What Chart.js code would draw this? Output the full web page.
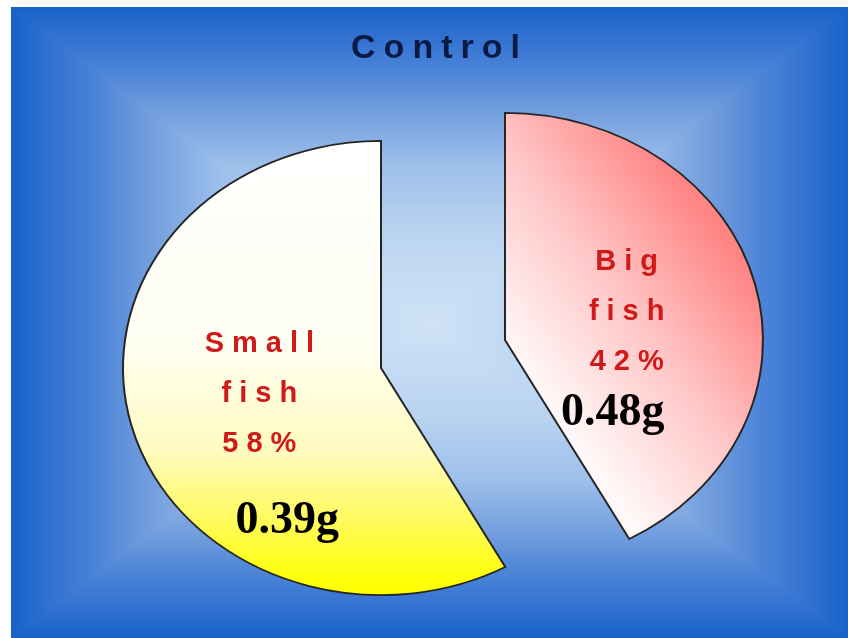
<!DOCTYPE html>
<html>
<head>
<meta charset="utf-8">
<title>Control</title>
<script src="https://cdn.jsdelivr.net/npm/chart.js@4.4.1/dist/chart.umd.min.js"></script>
<style>
  html, body { margin: 0; padding: 0; background: #ffffff; }
  #wrap { position: absolute; left: 11px; top: 7px; width: 837px; height: 631px; }
</style>
</head>
<body>
<div id="wrap"><canvas id="pie" width="837" height="631"></canvas></div>
<script>
// 슬라이스 데이터
const chartTitle = 'Control';
const categories = ['Big fish', 'Small fish'];
const nameLines = [['Big', 'fish'], ['Small', 'fish']];
const shares = [42, 58];
const weights = ['0.48g', '0.39g'];

// 파이 모양 설정
const RADIUS = 258;     // 가로 반지름(px)
const SQUASH = 0.88;    // 세로 눌림 비율
const EXPLODE = 64;     // 조각 분리 거리(px)

// 배경 그라데이션 색 (중심 0 -> 가장자리 1)
const bgStops = [
    [0, '#cfe2f6'], [0.3, '#b9d3f0'], [0.5, '#9dbfea'], [0.7, '#6a98dc'],
    [0.78, '#4f87d8'], [0.9, '#3372d2'], [1, '#1862c8']
];

// 조각을 분리하고 세로로 눌러 그리는 파이 컨트롤러
class ExplodedPieController extends Chart.PieController {
    draw() {
        const ctx = this.chart.ctx;
        const arcs = this._cachedMeta.data;
        ctx.save();
        if (arcs.length) {
            const cy = arcs[0].y;
            ctx.translate(0, cy);
            ctx.scale(1, SQUASH);
            ctx.translate(0, -cy);
        }
        arcs.forEach(arc => {
            const mid = (arc.startAngle + arc.endAngle) / 2;
            ctx.save();
            ctx.translate(Math.cos(mid) * EXPLODE, Math.sin(mid) * EXPLODE);
            arc.draw(ctx);
            ctx.restore();
        });
        ctx.restore();
    }
}
ExplodedPieController.id = 'explodedPie';
ExplodedPieController.defaults = Chart.PieController.defaults;
Chart.register(ExplodedPieController);

// 조각별 그라데이션 채우기
function sliceFill(c) {
    const area = c.chart.chartArea;
    if (!area || c.dataIndex === undefined) return '#ffffff';
    const ctx = c.chart.ctx;
    const cx = (area.left + area.right) / 2;
    const cy = (area.top + area.bottom) / 2;
    const r = RADIUS;
    let g;
    if (c.dataIndex === 0) {
        g = ctx.createLinearGradient(cx + 0.21 * r, cy + 0.35 * r, cx + 1.03 * r, cy - 0.18 * r);
        g.addColorStop(0, '#fff8f8');
        g.addColorStop(0.5, '#ffc6c6');
        g.addColorStop(1, '#ff8484');
    } else {
        g = ctx.createLinearGradient(0, cy - r, 0, cy + r);
        g.addColorStop(0, '#ffffff');
        g.addColorStop(0.45, '#fffff2');
        g.addColorStop(0.68, '#fffbc0');
        g.addColorStop(0.83, '#fffa60');
        g.addColorStop(0.95, '#ffff10');
        g.addColorStop(1, '#ffff00');
    }
    return g;
}

function hexRgb(h) {
    const n = parseInt(h.slice(1), 16);
    return [(n >> 16) & 255, (n >> 8) & 255, n & 255];
}

// 사각형 모양 그라데이션 배경을 픽셀 단위로 만든다
function buildBackdrop(w, h) {
    const cv = document.createElement('canvas');
    cv.width = w;
    cv.height = h;
    const c2 = cv.getContext('2d');
    const img = c2.createImageData(w, h);
    const stops = bgStops.map(([t, col]) => [t, hexRgb(col)]);
    const cx = w / 2, cy = h / 2;
    for (let y = 0; y < h; y++) {
        for (let x = 0; x < w; x++) {
            const t = Math.min(1, Math.max(Math.abs(x + 0.5 - cx) / cx, Math.abs(y + 0.5 - cy) / cy));
            let k = 1;
            while (k < stops.length - 1 && stops[k][0] < t) k++;
            const [t0, c0] = stops[k - 1];
            const [t1, c1] = stops[k];
            const f = (t - t0) / (t1 - t0);
            const p = (y * w + x) * 4;
            img.data[p] = c0[0] + (c1[0] - c0[0]) * f;
            img.data[p + 1] = c0[1] + (c1[1] - c0[1]) * f;
            img.data[p + 2] = c0[2] + (c1[2] - c0[2]) * f;
            img.data[p + 3] = 255;
        }
    }
    c2.putImageData(img, 0, 0);
    return cv;
}

// 배경과 제목
let backdropCache = null;
const backdropPlugin = {
    id: 'backdrop',
    beforeDraw(chart) {
        const {ctx, width, height} = chart;
        if (!backdropCache || backdropCache.width !== width || backdropCache.height !== height) {
            backdropCache = buildBackdrop(width, height);
        }
        ctx.save();
        ctx.drawImage(backdropCache, 0, 0);

        ctx.font = 'bold 34px "Liberation Sans", Arial, sans-serif';
        ctx.letterSpacing = '8px';
        ctx.fillStyle = '#0b1a44';
        ctx.textAlign = 'center';
        ctx.textBaseline = 'alphabetic';
        ctx.fillText(chartTitle, width / 2 + 6 + 4, 51);
        ctx.restore();
    }
};

// 조각 라벨(이름, 비율, 무게)
const labelPlugin = {
    id: 'sliceLabels',
    afterDraw(chart) {
        const ctx = chart.ctx;
        const arcs = chart.getDatasetMeta(0).data;
        const weightNudge = [[-14, 112], [28, 137]];
        arcs.forEach((arc, i) => {
            const mid = (arc.startAngle + arc.endAngle) / 2;
            const d = arc.outerRadius * 0.735;
            const x = arc.x + Math.cos(mid) * d;
            const y = arc.y + Math.sin(mid) * d * SQUASH;

            ctx.save();
            ctx.textAlign = 'center';
            ctx.textBaseline = 'alphabetic';
            ctx.font = 'bold 29px "Liberation Sans", Arial, sans-serif';
            ctx.letterSpacing = '8px';
            ctx.fillStyle = '#d01a1a';
            const lines = [...nameLines[i], shares[i] + '%'];
            lines.forEach((t, k) => ctx.fillText(t, x + 4, y + 7 + (k - 1) * 50));

            ctx.letterSpacing = '0px';
            ctx.font = 'bold 46px "Liberation Serif", "Times New Roman", serif';
            ctx.fillStyle = '#000000';
            ctx.fillText(weights[i], x + weightNudge[i][0], y + weightNudge[i][1]);
            ctx.restore();
        });
    }
};

const ctx = document.getElementById('pie').getContext('2d');
new Chart(ctx, {
    type: 'explodedPie',
    data: {
        labels: categories,
        datasets: [{
            data: shares,
            backgroundColor: sliceFill,
            borderColor: '#262626',
            borderWidth: 2,
            borderJoinStyle: 'miter',
            radius: RADIUS,
            clip: false
        }]
    },
    options: {
        responsive: false,
        animation: false,
        events: [],
        layout: { padding: { left: 27, top: 63, right: 0, bottom: 0 } },
        plugins: {
            legend: { display: false },
            tooltip: { enabled: false },
            title: { display: false }
        }
    },
    plugins: [backdropPlugin, labelPlugin]
});
</script>
</body>
</html>
